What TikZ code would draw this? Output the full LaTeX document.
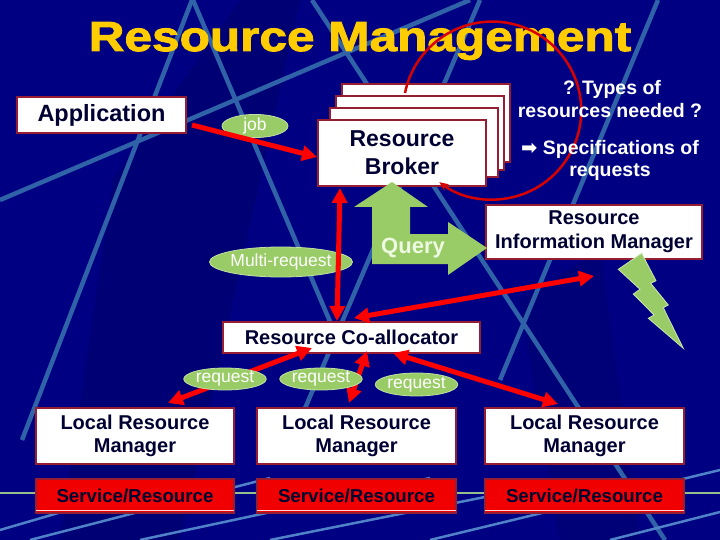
\documentclass[tikz,border=0pt]{standalone}
\usepackage{fontspec}
\setmainfont{Liberation Sans}
\newfontfamily\titlefont[FakeStretch=1.18,FakeBold=2.2]{Liberation Sans Bold}
\newfontfamily\symfont{DejaVu Sans}
\usetikzlibrary{arrows.meta,shapes.geometric}

\definecolor{bgnavy}{RGB}{0,0,130}
\definecolor{bgdark}{RGB}{0,0,90}
\definecolor{bgline}{RGB}{48,98,168}
\definecolor{bglight}{RGB}{80,130,200}
\definecolor{hline}{RGB}{150,190,140}
\definecolor{titleyel}{RGB}{255,204,0}
\definecolor{boxborder}{RGB}{150,30,50}
\definecolor{boxtext}{RGB}{0,0,50}
\definecolor{lgreen}{RGB}{153,204,102}
\definecolor{qtext}{RGB}{238,250,225}
\definecolor{arrred}{RGB}{255,0,0}
\definecolor{srred}{RGB}{240,0,0}

\tikzset{
  box/.style={draw=boxborder, line width=2pt, fill=white, inner sep=0pt, outer sep=0pt,
    text=boxtext, align=center, font=\bfseries\fontsize{20}{24}\selectfont},
  srbox/.style={box, fill=srred, font=\bfseries\fontsize{18.7}{22}\selectfont},
  lbl/.style={ellipse, fill=lgreen, draw=lgreen!60!white, line width=0.8pt, inner sep=0pt,
    text=white, font=\fontsize{17.5}{20}\selectfont},
  wtext/.style={text=white, inner sep=0pt, anchor=base, font=\bfseries\fontsize{19.5}{22}\selectfont},
  bgl/.style={draw=bgline, line width=4.5pt},
  bgf/.style={draw=bglight, line width=2.5pt},
  redarr/.style={draw=arrred, line width=5pt, -{Triangle[length=15pt,width=15pt]}},
  redbi/.style={draw=arrred, line width=5pt, {Triangle[length=15pt,width=15pt]}-{Triangle[length=15pt,width=15pt]}},
  circarc/.style={draw=arrred!85!black, line width=2.5pt, -{Stealth[length=9pt,width=8pt]}},
}

\begin{document}
\begin{tikzpicture}[x=1pt,y=-1pt]
\useasboundingbox (0,0) rectangle (720,540);
% background
\fill[bgnavy] (0,0) rectangle (720,540);
\fill[bgdark, opacity=0.3] (113,180) -- (240,0) -- (300,0) -- (180,540) -- (60,540) -- cycle;
\fill[bgdark, opacity=0.25] (520,300) -- (600,250) -- (640,540) -- (560,540) -- cycle;
\draw[bgl] (0,200) -- (470,0);
\draw[bgl] (192,0) -- (22,440);
\draw[bgl] (193,0) -- (340,345);
\draw[bgl] (480,0) -- (300,420);
\draw[bgl] (312,0) -- (665,540);
\draw[bgl] (658,0) -- (500,380);
\draw[bgf] (0,530) -- (130,492);
\draw[bgf] (30,540) -- (270,478);
\draw[bgf] (140,540) -- (430,478);
\draw[bgf] (270,540) -- (570,480);
\draw[bgf] (430,540) -- (720,470);
\draw[bgf] (610,540) -- (720,512);
\draw[draw=hline, line width=2pt] (0,493) -- (720,493);

% title
\node[text=titleyel, inner sep=0pt, anchor=base, font=\titlefont\fontsize{42}{48}\selectfont] (title) at (360,51) {Resource Management};

% boxes
\node[box, minimum width=169pt, minimum height=36pt, font=\bfseries\fontsize{23.5}{28}\selectfont] (app) at (101.5,115) {Application};
\node[box, minimum width=168pt, minimum height=78pt] (brk1) at (426,123) {};
\node[box, minimum width=168pt, minimum height=74pt] (brk2) at (420,133) {};
\node[box, minimum width=168pt, minimum height=69pt] (brk3) at (414,142.5) {};
\node[box, minimum width=168pt, minimum height=66pt, font=\bfseries\fontsize{23}{28}\selectfont] (broker) at (402,153) {Resource\\Broker};
\node[box, minimum width=216pt, minimum height=54pt] (rim) at (594,232) {Resource\\Information Manager};
\node[box, minimum width=257pt, minimum height=31pt] (coal) at (351.5,337.5) {Resource Co-allocator};
\node[box, minimum width=198pt, minimum height=56pt, font=\bfseries\fontsize{20}{23}\selectfont] (lrm1) at (135,436) {Local Resource\\Manager};
\node[box, minimum width=199pt, minimum height=56pt, font=\bfseries\fontsize{20}{23}\selectfont] (lrm2) at (356.5,436) {Local Resource\\Manager};
\node[box, minimum width=199pt, minimum height=56pt, font=\bfseries\fontsize{20}{23}\selectfont] (lrm3) at (584.5,436) {Local Resource\\Manager};
\node[srbox, minimum width=198pt, minimum height=34pt] (sr1) at (135,496) {Service/Resource};
\node[srbox, minimum width=199pt, minimum height=34pt] (sr2) at (356.5,496) {Service/Resource};
\node[srbox, minimum width=199pt, minimum height=34pt] (sr3) at (584.5,496) {Service/Resource};
\foreach \s in {sr1,sr2,sr3}{
  \draw[white!85!red, line width=1.5pt] ([yshift=2.5pt]\s.south west) -- ([yshift=2.5pt]\s.south east);
}

% green query double arrow
\fill[lgreen] (392,182) -- (428,207) -- (410,207) -- (410,234) -- (448,234) -- (448,222)
  -- (487,248) -- (448,275) -- (448,264) -- (372,264) -- (372,207) -- (354,207) -- cycle;
\node[text=qtext, inner sep=0pt, anchor=base, font=\bfseries\fontsize{22}{24}\selectfont] (query) at (413,253) {Query};

% lightning
\filldraw[fill=lgreen, draw=lgreen!50!white, line width=0.8pt] (618.3,269.3) -- (641.7,253.3) -- (656,280.7) -- (650.7,283.3)
  -- (668.3,305) -- (663.3,307.7) -- (683.3,348.3) -- (648.3,318.3) -- (654,315)
  -- (633.3,294) -- (640,289.3) -- cycle;

% label ellipses under arrows
\node[lbl, minimum width=66pt, minimum height=22pt] (job) at (255,126) {job};
\node[lbl, minimum width=131pt, minimum height=30pt] (multi) at (281,262) {Multi-request};

% connector end points
\coordinate (appout) at (192,125);
\coordinate (brkin) at (317,157);
\coordinate (brkbot) at (340,188);
\coordinate (coaltop) at (337,321);
\coordinate (rimfree) at (594,276);
\coordinate (coalr) at (354,318);
\coordinate (coalb1) at (312,348);
\coordinate (lrm1top) at (168,403);
\coordinate (coalb2) at (367,351);
\coordinate (lrm2top) at (349,403);
\coordinate (coalb3) at (393,353);
\coordinate (lrm3top) at (558,404);

\draw[redarr] (appout) -- (brkin);
\draw[redbi] (brkbot) -- (coaltop);
\draw[redbi] (rimfree) -- (coalr);
\draw[redbi] (coalb1) -- (lrm1top);
\draw[redbi] (coalb2) -- (lrm2top);
\draw[redbi] (coalb3) -- (lrm3top);

% request labels over arrows
\node[lbl, minimum width=64pt, minimum height=22pt] (req1) at (225,379) {request};
\node[lbl, minimum width=66pt, minimum height=22pt] (req2) at (321,379) {request};
\node[lbl, minimum width=67pt, minimum height=23pt] (req3) at (416.5,384.5) {request};

% red circle
\coordinate (circstart) at (405,93);
\draw[circarc] (circstart) arc[start angle=-168.6, end angle=126.4, radius=89];

% texts
\node[wtext] (q1) at (612,95) {? Types of};
\node[wtext] (q2) at (610,118) {resources needed ?};
\node[wtext] (q3) at (610,155) {{\symfont ➡}\ Specifications of};
\node[wtext] (q4) at (610,177) {requests};
\end{tikzpicture}
\end{document}
